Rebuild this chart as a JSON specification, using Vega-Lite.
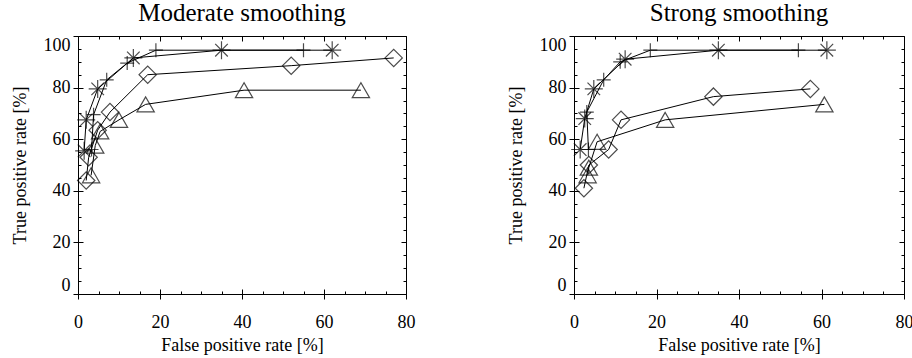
{
  "$schema": "https://vega.github.io/schema/vega-lite/v6.json",
  "padding": {"left": 10, "top": 0, "right": 5, "bottom": 5},
  "spacing": 90,
  "config": {
    "view": {"stroke": "black", "strokeWidth": 1},
    "font": "Liberation Serif",
    "style": {"guide-label": {"font": "Liberation Serif", "fill": "black"}, "guide-title": {"font": "Liberation Serif", "fill": "black"}},
    "axis": {"domain": false, "labelFont": "Liberation Serif", "titleFont": "Liberation Serif", "labelColor": "black", "titleColor": "black", "tickColor": "black", "tickWidth": 1, "gridColor": "black", "gridOpacity": 1, "gridWidth": 1, "labelFontSize": 18, "titleFontSize": 18, "titleFontWeight": "normal", "minExtent": 0},
    "title": {"font": "Liberation Serif", "fontSize": 25, "fontWeight": "normal", "color": "black", "anchor": "middle", "offset": 10}
  },
  "datasets": {
    "roc": [
      {"panel": "Moderate", "series": "asterisk", "order": 1, "fpr": 1.5, "tpr": 55.5},
      {"panel": "Moderate", "series": "asterisk", "order": 2, "fpr": 2.0, "tpr": 67.5},
      {"panel": "Moderate", "series": "asterisk", "order": 3, "fpr": 4.8, "tpr": 79.5},
      {"panel": "Moderate", "series": "asterisk", "order": 4, "fpr": 13.5, "tpr": 91.5},
      {"panel": "Moderate", "series": "asterisk", "order": 5, "fpr": 35.0, "tpr": 94.5},
      {"panel": "Moderate", "series": "asterisk", "order": 6, "fpr": 62.0, "tpr": 94.5},
      {"panel": "Moderate", "series": "plus", "order": 1, "fpr": 3.3, "tpr": 56.0},
      {"panel": "Moderate", "series": "plus", "order": 2, "fpr": 3.8, "tpr": 69.5},
      {"panel": "Moderate", "series": "plus", "order": 3, "fpr": 7.0, "tpr": 83.0},
      {"panel": "Moderate", "series": "plus", "order": 4, "fpr": 12.0, "tpr": 89.5},
      {"panel": "Moderate", "series": "plus", "order": 5, "fpr": 19.0, "tpr": 94.5},
      {"panel": "Moderate", "series": "plus", "order": 6, "fpr": 55.0, "tpr": 94.5},
      {"panel": "Moderate", "series": "diamond", "order": 1, "fpr": 2.0, "tpr": 44.0},
      {"panel": "Moderate", "series": "diamond", "order": 2, "fpr": 2.6, "tpr": 53.0},
      {"panel": "Moderate", "series": "diamond", "order": 3, "fpr": 4.8, "tpr": 63.5},
      {"panel": "Moderate", "series": "diamond", "order": 4, "fpr": 7.8, "tpr": 70.5},
      {"panel": "Moderate", "series": "diamond", "order": 5, "fpr": 17.0, "tpr": 85.0},
      {"panel": "Moderate", "series": "diamond", "order": 6, "fpr": 52.0, "tpr": 88.5},
      {"panel": "Moderate", "series": "diamond", "order": 7, "fpr": 77.0, "tpr": 91.5},
      {"panel": "Moderate", "series": "triangle", "order": 1, "fpr": 3.2, "tpr": 46.0},
      {"panel": "Moderate", "series": "triangle", "order": 2, "fpr": 4.2, "tpr": 57.5},
      {"panel": "Moderate", "series": "triangle", "order": 3, "fpr": 5.4, "tpr": 63.0},
      {"panel": "Moderate", "series": "triangle", "order": 4, "fpr": 10.0, "tpr": 67.5},
      {"panel": "Moderate", "series": "triangle", "order": 5, "fpr": 16.5, "tpr": 73.5},
      {"panel": "Moderate", "series": "triangle", "order": 6, "fpr": 40.5, "tpr": 79.0},
      {"panel": "Moderate", "series": "triangle", "order": 7, "fpr": 69.0, "tpr": 79.0},
      {"panel": "Strong", "series": "asterisk", "order": 1, "fpr": 1.5, "tpr": 56.0},
      {"panel": "Strong", "series": "asterisk", "order": 2, "fpr": 2.6, "tpr": 68.0},
      {"panel": "Strong", "series": "asterisk", "order": 3, "fpr": 4.8, "tpr": 79.5},
      {"panel": "Strong", "series": "asterisk", "order": 4, "fpr": 12.4, "tpr": 91.0},
      {"panel": "Strong", "series": "asterisk", "order": 5, "fpr": 35.0, "tpr": 94.5},
      {"panel": "Strong", "series": "asterisk", "order": 6, "fpr": 61.3, "tpr": 94.5},
      {"panel": "Strong", "series": "plus", "order": 1, "fpr": 3.5, "tpr": 56.0},
      {"panel": "Strong", "series": "plus", "order": 2, "fpr": 3.1, "tpr": 70.5},
      {"panel": "Strong", "series": "plus", "order": 3, "fpr": 7.2, "tpr": 83.0},
      {"panel": "Strong", "series": "plus", "order": 4, "fpr": 11.2, "tpr": 90.0},
      {"panel": "Strong", "series": "plus", "order": 5, "fpr": 18.5, "tpr": 94.5},
      {"panel": "Strong", "series": "plus", "order": 6, "fpr": 54.4, "tpr": 94.5},
      {"panel": "Strong", "series": "diamond", "order": 1, "fpr": 2.4, "tpr": 41.0},
      {"panel": "Strong", "series": "diamond", "order": 2, "fpr": 3.6, "tpr": 50.0},
      {"panel": "Strong", "series": "diamond", "order": 3, "fpr": 8.4, "tpr": 56.0},
      {"panel": "Strong", "series": "diamond", "order": 4, "fpr": 11.4, "tpr": 67.5},
      {"panel": "Strong", "series": "diamond", "order": 5, "fpr": 33.8, "tpr": 76.5},
      {"panel": "Strong", "series": "diamond", "order": 6, "fpr": 57.3, "tpr": 79.5},
      {"panel": "Strong", "series": "triangle", "order": 1, "fpr": 3.3, "tpr": 46.0},
      {"panel": "Strong", "series": "triangle", "order": 2, "fpr": 3.6, "tpr": 49.0},
      {"panel": "Strong", "series": "triangle", "order": 3, "fpr": 5.6, "tpr": 59.0},
      {"panel": "Strong", "series": "triangle", "order": 4, "fpr": 22.1, "tpr": 67.5},
      {"panel": "Strong", "series": "triangle", "order": 5, "fpr": 60.7, "tpr": 73.5}
    ]
  },
  "hconcat": [
    {
      "width": 328, "height": 258,
      "title": {"text": "Moderate smoothing"},
      "data": {"name": "roc"},
      "transform": [{"filter": "datum.panel === 'Moderate'"}],
      "layer": [
        {
          "mark": {"type": "line", "color": "black", "strokeWidth": 1},
          "encoding": {
            "x": {"field": "fpr", "type": "quantitative", "scale": {"domain": [0, 80], "nice": false, "zero": false},
                  "axis": {"orient": "bottom", "values": [0, 20, 40, 60, 80], "ticks": true, "tickSize": 5, "grid": true, "gridDash": [5, 248], "labelPadding": 14, "labelFlush": false, "title": "False positive rate [%]", "titlePadding": 5}},
            "y": {"field": "tpr", "type": "quantitative", "scale": {"domain": [0, 100], "nice": false, "zero": false},
                  "axis": {"orient": "left", "values": [0, 20, 40, 60, 80, 100], "ticks": true, "tickSize": 5, "grid": true, "gridDash": [5, 318], "labelPadding": 3, "labelFlush": true, "labelFlushOffset": 0, "title": "True positive rate [%]", "titlePadding": 14}},
            "detail": {"field": "series"},
            "order": {"field": "order"}
          }
        },
        {
          "transform": [{"filter": "datum.series === 'diamond'"}],
          "mark": {"type": "point", "shape": "diamond", "size": 300, "stroke": "black", "strokeWidth": 1.2, "filled": false},
          "encoding": {
            "x": {"field": "fpr", "type": "quantitative", "scale": {"domain": [0, 80], "nice": false, "zero": false}, "axis": {"orient": "bottom", "values": [5,10,15,25,30,35,45,50,55,65,70,75], "labels": false, "ticks": false, "title": null, "grid": true, "gridDash": [3, 252]}},
            "y": {"field": "tpr", "type": "quantitative", "scale": {"domain": [0, 100], "nice": false, "zero": false}, "axis": {"orient": "left", "values": [5,10,15,25,30,35,45,50,55,65,70,75,85,90,95], "labels": false, "ticks": false, "title": null, "grid": true, "gridDash": [3, 322]}}
          }
        },
        {
          "transform": [{"filter": "datum.series === 'triangle'"}],
          "mark": {"type": "point", "shape": "triangle-up", "size": 300, "stroke": "black", "strokeWidth": 1.2, "filled": false},
          "encoding": {
            "x": {"field": "fpr", "type": "quantitative", "scale": {"domain": [0, 80], "nice": false, "zero": false}, "axis": null},
            "y": {"field": "tpr", "type": "quantitative", "scale": {"domain": [0, 100], "nice": false, "zero": false}, "axis": null}
          }
        },
        {
          "transform": [{"filter": "datum.series === 'plus'"}],
          "mark": {"type": "point", "shape": "M-1,0L1,0M0,-1L0,1", "size": 196, "stroke": "black", "strokeWidth": 1.2, "filled": false},
          "encoding": {
            "x": {"field": "fpr", "type": "quantitative", "scale": {"domain": [0, 80], "nice": false, "zero": false}, "axis": null},
            "y": {"field": "tpr", "type": "quantitative", "scale": {"domain": [0, 100], "nice": false, "zero": false}, "axis": null}
          }
        },
        {
          "transform": [{"filter": "datum.series === 'asterisk'"}],
          "mark": {"type": "point", "shape": "M-1,0L1,0M0,-1L0,1M-0.7,-0.7L0.7,0.7M-0.7,0.7L0.7,-0.7", "size": 324, "stroke": "black", "strokeWidth": 1.2, "filled": false},
          "encoding": {
            "x": {"field": "fpr", "type": "quantitative", "scale": {"domain": [0, 80], "nice": false, "zero": false}, "axis": null},
            "y": {"field": "tpr", "type": "quantitative", "scale": {"domain": [0, 100], "nice": false, "zero": false}, "axis": null}
          }
        }
      ],
      "resolve": {"scale": {"x": "independent", "y": "independent"}, "axis": {"x": "independent", "y": "independent"}}
    },
    {
      "width": 330, "height": 258,
      "title": {"text": "Strong smoothing"},
      "data": {"name": "roc"},
      "transform": [{"filter": "datum.panel === 'Strong'"}],
      "layer": [
        {
          "mark": {"type": "line", "color": "black", "strokeWidth": 1},
          "encoding": {
            "x": {"field": "fpr", "type": "quantitative", "scale": {"domain": [0, 80], "nice": false, "zero": false},
                  "axis": {"orient": "bottom", "values": [0, 20, 40, 60, 80], "ticks": true, "tickSize": 5, "grid": true, "gridDash": [5, 248], "labelPadding": 14, "labelFlush": false, "title": "False positive rate [%]", "titlePadding": 5}},
            "y": {"field": "tpr", "type": "quantitative", "scale": {"domain": [0, 100], "nice": false, "zero": false},
                  "axis": {"orient": "left", "values": [0, 20, 40, 60, 80, 100], "ticks": true, "tickSize": 5, "grid": true, "gridDash": [5, 320], "labelPadding": 3, "labelFlush": true, "labelFlushOffset": 0, "title": "True positive rate [%]", "titlePadding": 14}},
            "detail": {"field": "series"},
            "order": {"field": "order"}
          }
        },
        {
          "transform": [{"filter": "datum.series === 'diamond'"}],
          "mark": {"type": "point", "shape": "diamond", "size": 300, "stroke": "black", "strokeWidth": 1.2, "filled": false},
          "encoding": {
            "x": {"field": "fpr", "type": "quantitative", "scale": {"domain": [0, 80], "nice": false, "zero": false}, "axis": {"orient": "bottom", "values": [5,10,15,25,30,35,45,50,55,65,70,75], "labels": false, "ticks": false, "title": null, "grid": true, "gridDash": [3, 252]}},
            "y": {"field": "tpr", "type": "quantitative", "scale": {"domain": [0, 100], "nice": false, "zero": false}, "axis": {"orient": "left", "values": [5,10,15,25,30,35,45,50,55,65,70,75,85,90,95], "labels": false, "ticks": false, "title": null, "grid": true, "gridDash": [3, 324]}}
          }
        },
        {
          "transform": [{"filter": "datum.series === 'triangle'"}],
          "mark": {"type": "point", "shape": "triangle-up", "size": 300, "stroke": "black", "strokeWidth": 1.2, "filled": false},
          "encoding": {
            "x": {"field": "fpr", "type": "quantitative", "scale": {"domain": [0, 80], "nice": false, "zero": false}, "axis": null},
            "y": {"field": "tpr", "type": "quantitative", "scale": {"domain": [0, 100], "nice": false, "zero": false}, "axis": null}
          }
        },
        {
          "transform": [{"filter": "datum.series === 'plus'"}],
          "mark": {"type": "point", "shape": "M-1,0L1,0M0,-1L0,1", "size": 196, "stroke": "black", "strokeWidth": 1.2, "filled": false},
          "encoding": {
            "x": {"field": "fpr", "type": "quantitative", "scale": {"domain": [0, 80], "nice": false, "zero": false}, "axis": null},
            "y": {"field": "tpr", "type": "quantitative", "scale": {"domain": [0, 100], "nice": false, "zero": false}, "axis": null}
          }
        },
        {
          "transform": [{"filter": "datum.series === 'asterisk'"}],
          "mark": {"type": "point", "shape": "M-1,0L1,0M0,-1L0,1M-0.7,-0.7L0.7,0.7M-0.7,0.7L0.7,-0.7", "size": 324, "stroke": "black", "strokeWidth": 1.2, "filled": false},
          "encoding": {
            "x": {"field": "fpr", "type": "quantitative", "scale": {"domain": [0, 80], "nice": false, "zero": false}, "axis": null},
            "y": {"field": "tpr", "type": "quantitative", "scale": {"domain": [0, 100], "nice": false, "zero": false}, "axis": null}
          }
        }
      ],
      "resolve": {"scale": {"x": "independent", "y": "independent"}, "axis": {"x": "independent", "y": "independent"}}
    }
  ]
}
